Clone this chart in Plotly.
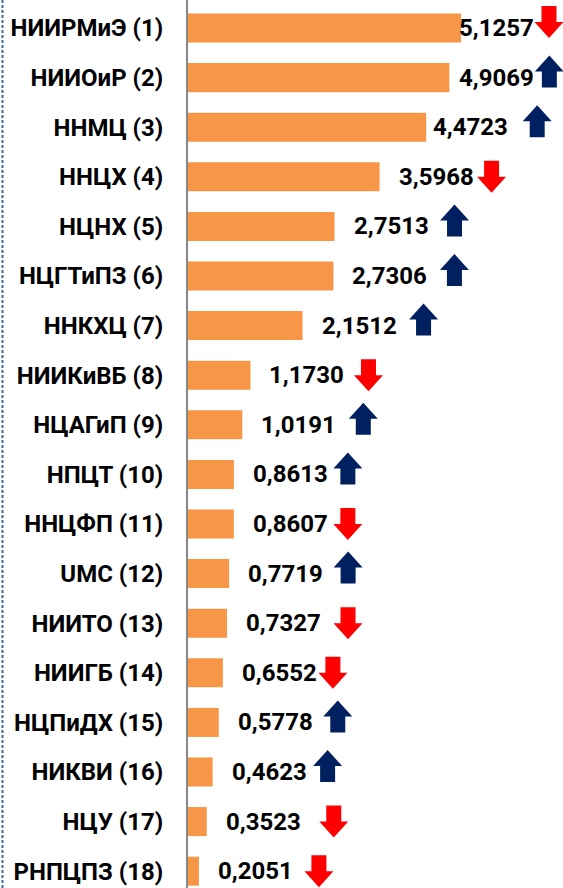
import plotly.graph_objects as go

# ---- data ----
names = ["НИИРМиЭ (1)", "НИИОиР (2)", "ННМЦ (3)", "ННЦХ (4)", "НЦНХ (5)", "НЦГТиПЗ (6)",
         "ННКХЦ (7)", "НИИКиВБ (8)", "НЦАГиП (9)", "НПЦТ (10)", "ННЦФП (11)", "UMC (12)",
         "НИИТО (13)", "НИИГБ (14)", "НЦПиДХ (15)", "НИКВИ (16)", "НЦУ (17)", "РНПЦПЗ (18)"]
values = [5.1257, 4.9069, 4.4723, 3.5968, 2.7513, 2.7306, 2.1512, 1.1730, 1.0191,
          0.8613, 0.8607, 0.7719, 0.7327, 0.6552, 0.5778, 0.4623, 0.3523, 0.2051]
trend = ["down", "up", "up", "down", "up", "up", "up", "down", "up",
         "up", "down", "up", "down", "down", "up", "up", "down", "down"]

# ---- style (pixel offsets measured from bar end) ----
label_gap = [-4, 8, 5, 17, 17, 17, 17, 17, 17, 17, 17, 17, 17, 17, 17, 17, 17, 17]
arrow_off = [88, 100, 111, 112, 120, 121, 121, 118, 121, 114, 114, 119, 121, 110, 119, 115, 127, 120]

BAR = "#F79646"
UP = "#002060"
DOWN = "#FF0000"
FONT = "Roboto"
W, H = 563, 888
AXIS_X = 188

idx = list(range(len(names)))

fig = go.Figure(go.Bar(
    x=values, y=idx, orientation="h", width=0.585,
    marker=dict(color=BAR, line=dict(width=0)),
    hoverinfo="skip",
))


def arrow_path(direction, cx, cy):
    hw, sw, hh, sh = 14.5, 7.5, 16, 16
    s = 1 if direction == "up" else -1
    pts = [(0, hh), (hw, 0), (sw, 0), (sw, -sh), (-sw, -sh), (-sw, 0), (-hw, 0)]
    return "M" + " L".join(f"{cx + px},{cy + s * py}" for px, py in pts) + " Z"


shapes = []
annotations = []
for i, (v, t) in enumerate(zip(values, trend)):
    annotations.append(dict(
        x=v, y=i, xref="x", yref="y", xanchor="left", yanchor="middle",
        xshift=label_gap[i], text=f"{v:.4f}".replace(".", ","), showarrow=False,
        font=dict(family=FONT, size=24, color="black", weight="bold"),
    ))
    cy = 6 if (t == "up" or i == 0) else 0
    shapes.append(dict(
        type="path", xref="x", yref="y", xsizemode="pixel", ysizemode="pixel",
        xanchor=v, yanchor=i, path=arrow_path(t, arrow_off[i], cy),
        fillcolor=UP if t == "up" else DOWN, line=dict(width=0), layer="above",
    ))

# dashed border line at the far left
shapes.append(dict(
    type="line", xref="paper", yref="paper", x0=2.5 / W, x1=2.5 / W, y0=0, y1=1,
    line=dict(color="#3F6A9E", width=2, dash="3px,2px"),
))

fig.update_layout(
    width=W, height=H,
    margin=dict(l=0, r=0, t=0, b=0),
    paper_bgcolor="white", plot_bgcolor="white",
    showlegend=False,
    shapes=shapes, annotations=annotations,
    xaxis=dict(domain=[AXIS_X / W, 1], range=[0, (W - AXIS_X) / 53.26], visible=False,
               showgrid=False, zeroline=False),
    yaxis=dict(
        range=[17.339, -0.565], tickmode="array", tickvals=idx, ticktext=names,
        showgrid=False, zeroline=False, showline=True, linecolor="#878787", linewidth=2,
        ticks="", ticklabelstandoff=18, automargin=False,
        tickfont=dict(family=FONT, size=24, color="black", weight="bold"),
    ),
)

fig.write_html(
    "out.html",
    config={"displayModeBar": False},
    post_script="document.body.style.margin='0';document.body.style.overflow='hidden';",
)
